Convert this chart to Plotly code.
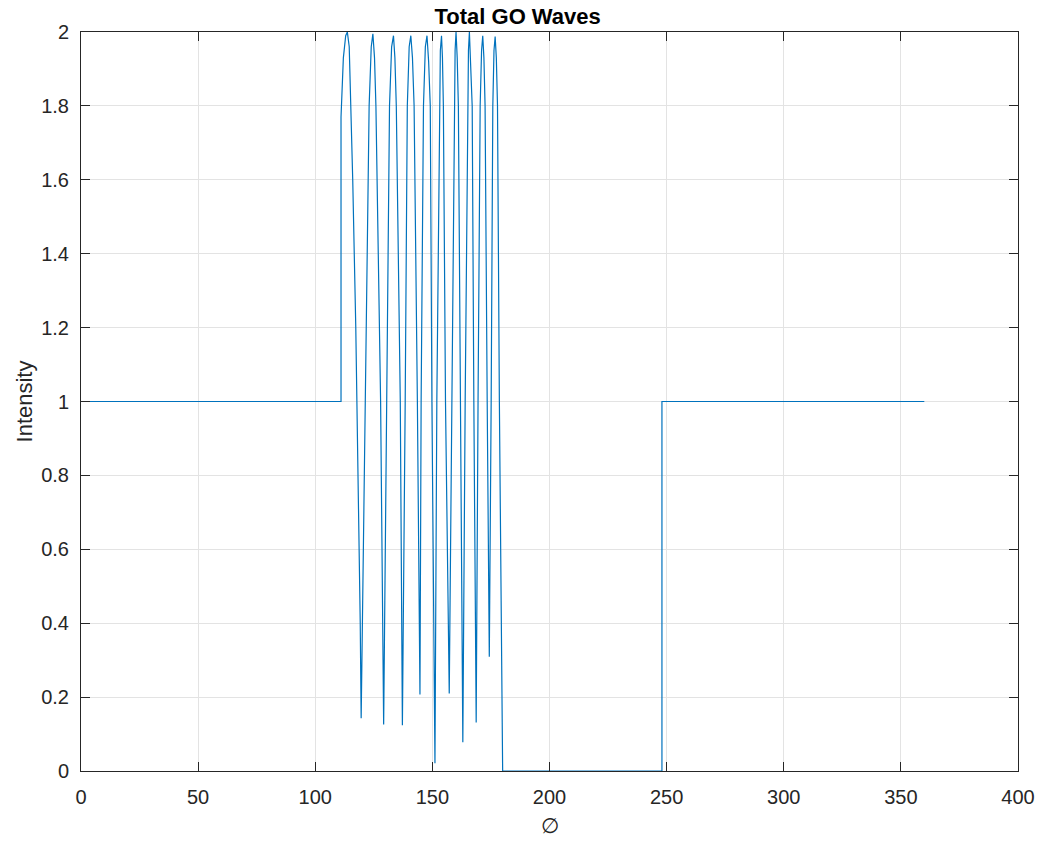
import plotly.graph_objects as go

# Angle (degrees) and intensity values
phi = [1, 111, 111, 112, 113, 113.7, 114.5, 115.2, 116.0, 117.3, 118.3, 119.2, 119.6,
       121.3, 123.0, 123.9, 124.6, 125.3, 125.9, 127.9, 129.2,
       130.5, 131.7, 132.6, 133.4, 134.0, 134.6, 136.3, 137.2,
       138.4, 139.3, 140.1, 140.8, 141.5, 142.2, 143.6, 144.7,
       145.2, 146.2, 147.0, 147.7, 148.4, 149.1, 149.8, 151.1,
       151.9, 152.9, 153.4, 153.9, 154.3, 154.7, 155.6, 157.2,
       158.2, 159.3, 159.7, 160.1, 160.6, 161.1, 162.1, 163.0,
       164.0, 165.0, 165.4, 165.8, 166.3, 167.0, 167.7, 168.7,
       169.5, 170.4, 171.0, 171.5, 172.0, 172.5, 173.4, 174.1, 174.3,
       175.1, 175.8, 176.3, 176.8, 177.3, 177.8, 178.6, 179.8, 180.0,
       248, 248, 360]
intensity = [1, 1, 1.77, 1.93, 1.99, 2.0, 1.96, 1.8, 1.6, 1.2, 0.8, 0.4, 0.143,
             1.0, 1.8, 1.96, 1.995, 1.93, 1.8, 1.0, 0.126,
             1.0, 1.8, 1.96, 1.99, 1.93, 1.8, 1.0, 0.124,
             1.0, 1.8, 1.96, 1.99, 1.93, 1.8, 1.0, 0.207,
             1.0, 1.8, 1.96, 1.99, 1.92, 1.8, 1.0, 0.021,
             1.0, 1.8, 1.95, 1.99, 1.93, 1.8, 1.0, 0.21,
             1.0, 1.8, 1.95, 2.0, 1.93, 1.8, 1.0, 0.078,
             1.0, 1.8, 1.95, 2.0, 1.93, 1.8, 1.0, 0.131,
             1.0, 1.8, 1.95, 1.99, 1.93, 1.8, 1.0, 0.333, 0.309,
             1.0, 1.8, 1.95, 1.988, 1.93, 1.8, 1.0, 0.1, 0.0,
             0, 1, 1]

x_ticks = [0, 50, 100, 150, 200, 250, 300, 350, 400]
y_ticks = [0, 0.2, 0.4, 0.6, 0.8, 1, 1.2, 1.4, 1.6, 1.8, 2]
y_tick_text = ["0", "0.2", "0.4", "0.6", "0.8", "1", "1.2", "1.4", "1.6", "1.8", "2"]

fig = go.Figure()
fig.add_trace(go.Scatter(x=phi, y=intensity, mode="lines",
                         line=dict(color="#0072BD", width=1.2), showlegend=False))

font_family = "Liberation Sans, Arial, Helvetica, sans-serif"
axis_common = dict(
    showline=True, linecolor="#262626", linewidth=1, mirror="ticks",
    ticks="inside", ticklen=9, tickcolor="#262626", tickwidth=1,
    showgrid=True, gridcolor="#e3e3e3", gridwidth=1, zeroline=False,
    tickfont=dict(family=font_family, size=20, color="#262626"),
)

fig.update_layout(
    width=1056, height=841,
    margin=dict(l=73, r=46, t=24, b=78),
    paper_bgcolor="white", plot_bgcolor="white",
    title=dict(text="<b>Total GO Waves</b>", x=0.466, xanchor="center",
               xref="paper", yref="container", y=0.999, yanchor="top",
               font=dict(family=font_family, size=22, color="black")),
    xaxis=dict(range=[0, 400], tickvals=x_ticks, ticklabelstandoff=8,
               title=dict(text="∅", font=dict(family=font_family, size=21, color="#262626"),
                          standoff=11),
               **axis_common),
    yaxis=dict(range=[0, 2], tickvals=y_ticks, ticktext=y_tick_text, ticklabelstandoff=7,
               title=dict(text="Intensity", font=dict(family=font_family, size=22, color="#262626"),
                          standoff=2),
               **axis_common),
)

fig.write_html("out.html")
